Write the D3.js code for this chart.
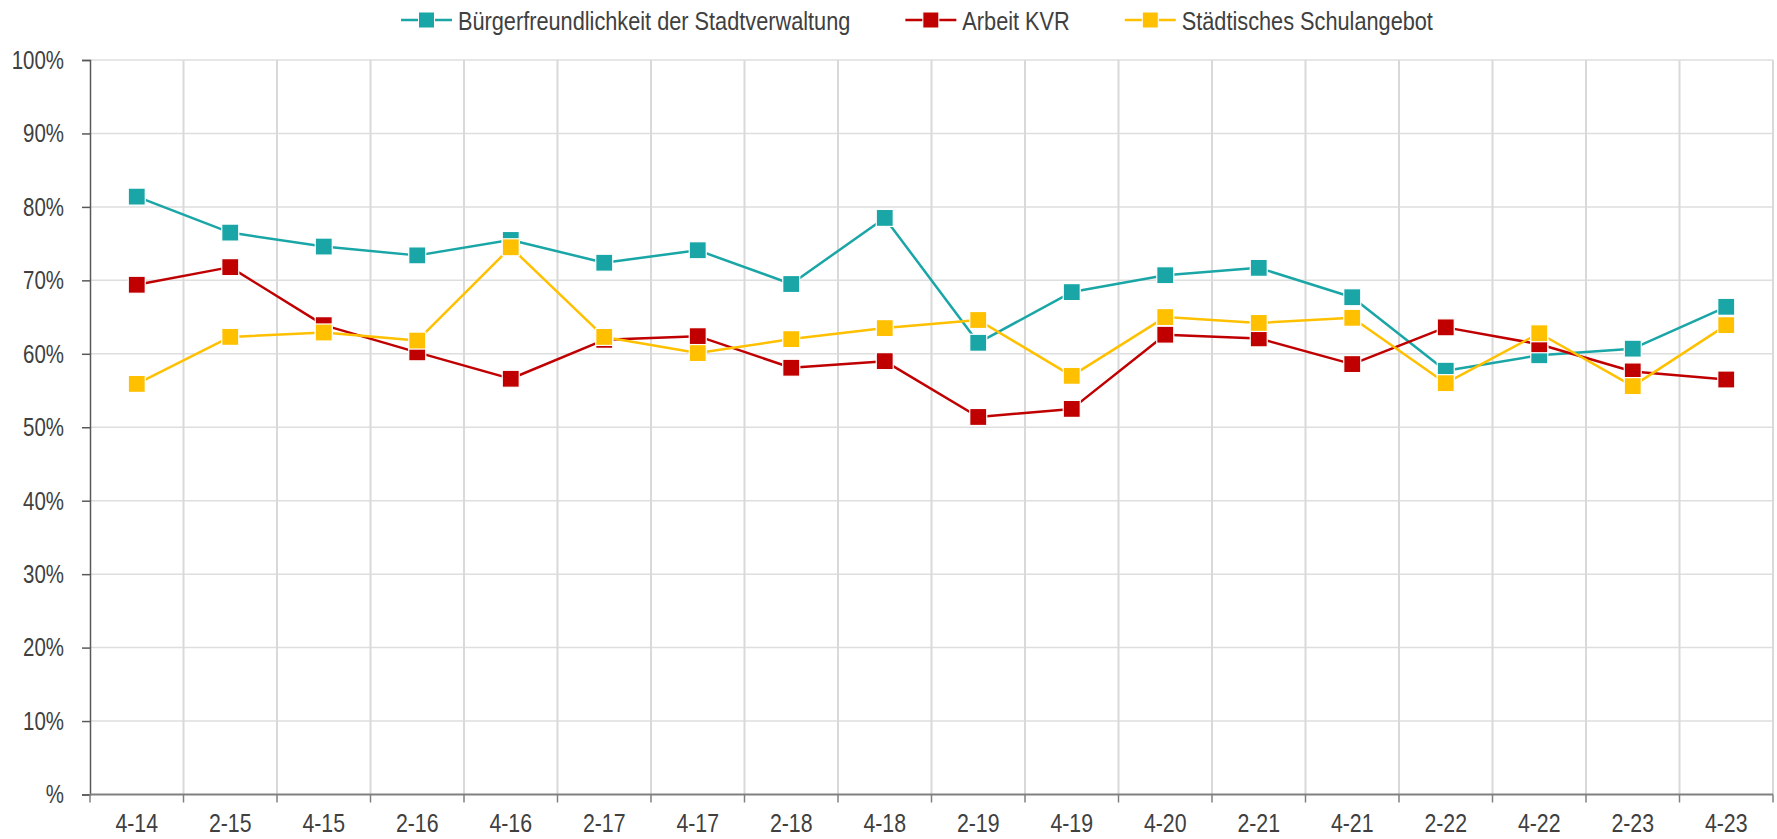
<!DOCTYPE html>
<html>
<head>
<meta charset="utf-8">
<script src="https://cdn.jsdelivr.net/npm/d3@7"></script>
<style>
  body { margin: 0; background: #fff; }
  svg { display: block; }
</style>
</head>
<body>
<svg id="chart"></svg>
<script>
// data
const quarters = ["4-14", "2-15", "4-15", "2-16", "4-16", "2-17", "4-17", "2-18", "4-18",
                  "2-19", "4-19", "4-20", "2-21", "4-21", "2-22", "4-22", "2-23", "4-23"];
const seriesNames = ["Bürgerfreundlichkeit der Stadtverwaltung", "Arbeit KVR", "Städtisches Schulangebot"];
const buergerValues = [81.4, 76.5, 74.6, 73.4, 75.5, 72.4, 74.1, 69.5, 78.5, 61.5, 68.4, 70.7, 71.7, 67.7, 57.7, 59.8, 60.7, 66.4];
const kvrValues     = [69.4, 71.8, 63.9, 60.2, 56.6, 61.9, 62.4, 58.1, 59.0, 51.4, 52.5, 62.6, 62.1, 58.6, 63.6, 61.3, 57.6, 56.5];
const schuleValues  = [55.9, 62.3, 62.9, 61.8, 74.5, 62.3, 60.1, 62.0, 63.5, 64.6, 57.0, 65.0, 64.2, 64.9, 56.0, 62.8, 55.6, 63.9];
const yTicks = [0, 10, 20, 30, 40, 50, 60, 70, 80, 90, 100];
const colors = ["#1aa6a6", "#c00000", "#ffc000"];

const series = [buergerValues, kvrValues, schuleValues].map((vals, i) => ({
  name: seriesNames[i],
  color: colors[i],
  values: vals.map((v, j) => ({ q: quarters[j], v: v }))
}));

// check whether a narrow font is installed, otherwise squeeze the normal one
function hasFont(name) {
  const ctx = document.createElement("canvas").getContext("2d");
  ctx.font = "40px monospace";
  const base = ctx.measureText("Bürgerfreundlichkeit 4-14").width;
  ctx.font = "40px '" + name + "', monospace";
  return ctx.measureText("Bürgerfreundlichkeit 4-14").width !== base;
}
const narrow = hasFont("Liberation Sans Narrow");
const fontFamily = narrow ? "'Liberation Sans Narrow'" : "'Liberation Sans', Arial";
const squeeze = narrow ? 1 : 0.82;
const textColor = "#404040";

const width = 1777, height = 839;
const margin = { top: 60, right: 4, bottom: 44.5, left: 90 };
const innerW = width - margin.left - margin.right;
const innerH = height - margin.top - margin.bottom;

const svg = d3.select("#chart")
    .attr("width", width)
    .attr("height", height)
    .style("font-family", fontFamily);

const chart = svg.append("g")
    .attr("transform", `translate(${margin.left},${margin.top})`);

// Scales _____________________________________
const x = d3.scaleBand()
    .domain(quarters)
    .range([0, innerW])
    .padding(0);

const y = d3.scaleLinear()
    .domain([0, 100])
    .range([innerH, 0]);

const xc = d => x(d) + x.bandwidth() / 2;

// Grid _____________________________________
chart.append("g")
    .selectAll("line")
    .data(yTicks.filter(t => t > 0))
    .join("line")
      .attr("x1", 0)
      .attr("x2", innerW)
      .attr("y1", d => y(d))
      .attr("y2", d => y(d))
      .attr("stroke", "#dedede")
      .attr("stroke-width", 1.5);

const boundaries = quarters.slice(1).map(q => x(q)).concat([innerW]);
chart.append("g")
    .selectAll("line")
    .data(boundaries)
    .join("line")
      .attr("x1", d => d)
      .attr("x2", d => d)
      .attr("y1", 0)
      .attr("y2", innerH)
      .attr("stroke", "#d9d9d9")
      .attr("stroke-width", 2);

// Axis _____________________________________
const yAxis = chart.append("g")
    .call(d3.axisLeft(y)
      .tickValues(yTicks)
      .tickSize(8)
      .tickPadding(0)
      .tickFormat(d => d === 0 ? "%" : d + "%"));
yAxis.select(".domain").attr("stroke", "#595959").attr("stroke-width", 1.5);
yAxis.selectAll(".tick line").attr("stroke", "#595959").attr("stroke-width", 1.5);
// label right edge sits about 26px left of the axis
yAxis.selectAll(".tick text")
    .attr("x", null)
    .attr("fill", textColor)
    .style("font-size", "26px")
    .attr("transform", `translate(-26,0) scale(${squeeze * 0.96},1)`);

// x ticks sit on the band boundaries, labels in the middle of each band
const xAxis = chart.append("g")
    .attr("transform", `translate(0,${innerH})`);
xAxis.append("line")
    .attr("x1", 0)
    .attr("x2", innerW)
    .attr("stroke", "#808080")
    .attr("stroke-width", 2);
xAxis.selectAll("line.tick")
    .data([0].concat(boundaries))
    .join("line")
      .attr("class", "tick")
      .attr("x1", d => d)
      .attr("x2", d => d)
      .attr("y1", 0)
      .attr("y2", 8)
      .attr("stroke", "#808080")
      .attr("stroke-width", 1.5);
xAxis.selectAll("text")
    .data(quarters)
    .join("text")
      .attr("transform", d => `translate(${xc(d)},37) scale(${squeeze},1)`)
      .attr("text-anchor", "middle")
      .attr("fill", textColor)
      .style("font-size", "26px")
      .text(d => d);

// Lines  _____________________________________
const line = d3.line()
    .x(d => xc(d.q))
    .y(d => y(d.v));

const markerSize = 17;

series.forEach(function(s) {
  chart.append("path")
      .datum(s.values)
      .attr("fill", "none")
      .attr("stroke", s.color)
      .attr("stroke-width", 2.5)
      .attr("stroke-linejoin", "round")
      .attr("d", line);
});

// markers drawn after all lines, in series order
series.forEach(function(s) {
  chart.append("g")
    .selectAll("rect")
    .data(s.values)
    .join("rect")
      .attr("x", d => xc(d.q) - markerSize / 2)
      .attr("y", d => y(d.v) - markerSize / 2)
      .attr("width", markerSize)
      .attr("height", markerSize)
      .attr("fill", s.color)
      .attr("stroke", "#fff")
      .attr("stroke-width", 1.2);
});

// Legend _____________________________________
const legend = svg.append("g").attr("transform", "translate(401,0)");
let cursor = 0;
series.forEach(function(s) {
  const item = legend.append("g").attr("transform", `translate(${cursor},0)`);
  item.append("line")
      .attr("x1", 0).attr("x2", 51)
      .attr("y1", 20).attr("y2", 20)
      .attr("stroke", s.color)
      .attr("stroke-width", 2.5);
  item.append("rect")
      .attr("x", 17.5).attr("y", 12)
      .attr("width", 16).attr("height", 16)
      .attr("fill", s.color)
      .attr("stroke", "#fff")
      .attr("stroke-width", 1);
  const t = item.append("text")
      .attr("transform", `translate(57,29.5) scale(${squeeze},1)`)
      .attr("fill", textColor)
      .style("font-size", "26.5px")
      .text(s.name);
  const w = t.node().getComputedTextLength() * squeeze;
  cursor += 57 + w + 55;
});
</script>
</body>
</html>
